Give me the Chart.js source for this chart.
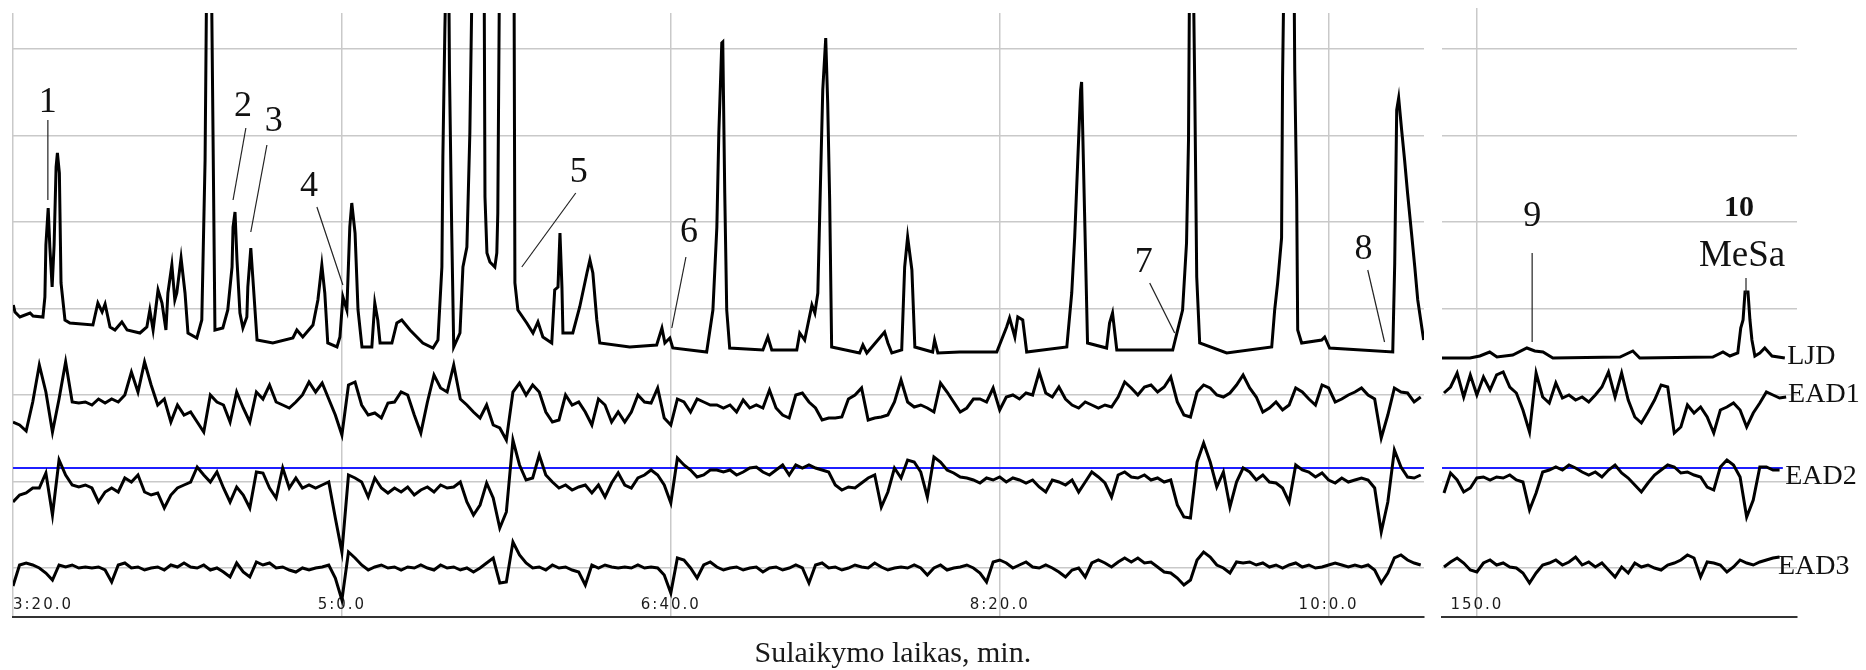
<!DOCTYPE html>
<html>
<head>
<meta charset="utf-8">
<title>GC-EAD</title>
<script src="https://cdn.jsdelivr.net/npm/chart.js"></script>
<style>
  html, body { margin:0; padding:0; background:#fff; }
  #wrap  { position:relative; width:1866px; height:670px; overflow:hidden; background:#fff; }
  #left  { position:absolute; left:0; top:0; }
  #right { position:absolute; left:1430px; top:0; }
</style>
</head>
<body>
<div id="wrap">
  <canvas id="left" width="1440" height="670"></canvas>
  <canvas id="right" width="436" height="670"></canvas>
</div>
<script>
// ============================================================
//  GC-EAD run: FID trace (LJD) + three antenna traces (EAD1-3)
//  x = retention time in seconds, y = signal in arbitrary units
// ============================================================

// ---- axis ticks --------------------------------------------
const LEFT_TICKS        = [200, 300, 400, 500, 600];
const LEFT_TICK_LABELS  = ['3:20.0', '5:0.0', '6:40.0', '8:20.0', '10:0.0'];
const RIGHT_TICKS       = [150];
const RIGHT_TICK_LABELS = ['150.0'];

// ---- LJD (FID) trace, [time, signal] vertices ----------------
const LJD_LEFT = [
  [200.1,45],[200.6,38],[202.1,33],[205.2,37],[206.1,34],[209.1,33],[209.7,53],[210.0,105],[210.7,142],[211.2,103],
  [211.9,63],[212.5,105],[213.1,183],[213.5,197],[214.1,177],[214.6,67],[215.8,30],[217.3,27],[224.3,25],[225.8,47],
  [227.1,38],[228.0,46],[229.5,23],[231.0,20],[233.1,28],[234.7,20],[238.6,17],[240.7,23],[241.6,40],[242.6,20],
  [244.1,60],[245.3,47],[246.5,20],[247.1,57],[248.3,85],[249.2,50],[249.8,57],[251.1,92],[252.3,57],[253.2,17],
  [255.9,12],[257.4,30],[258.4,190],[259.0,420],[260.2,420],[260.8,220],[261.4,20],[263.8,22],[265.3,40],[266.6,83],
  [266.9,123],[267.5,138],[268.1,90],[269.0,37],[269.9,22],[271.1,33],[271.4,63],[272.3,102],[272.9,73],[274.2,10],
  [279.0,7],[285.1,12],[286.3,20],[288.1,13],[291.2,25],[292.7,50],[293.9,85],[294.8,57],[295.7,7],[298.5,3],
  [299.4,13],[300.3,53],[301.5,40],[302.4,123],[303.0,147],[304.0,117],[304.9,40],[306.1,3],[309.1,3],[310.0,47],
  [310.9,30],[311.6,7],[315.2,7],[316.7,27],[318.2,30],[320.7,20],[324.6,7],[327.7,2],[329.2,10],[330.4,83],
  [330.7,193],[331.3,320],[331.9,420],[332.4,420],[332.7,280],[333.4,117],[334.0,3],[335.9,17],[336.8,83],[338.0,103],
  [338.9,217],[339.8,420],[343.2,420],[343.5,153],[344.1,97],[345.0,88],[346.5,83],[347.1,97],[347.4,137],[348.0,420],
  [352.3,420],[352.6,67],[353.5,40],[356.2,27],[358.1,17],[359.6,28],[361.1,13],[363.8,7],[364.7,60],[365.7,63],
  [366.3,117],[366.9,63],[367.2,17],[370.2,17],[372.3,43],[374.5,77],[375.4,90],[376.3,77],[377.5,30],[378.4,7],
  [387.5,3],[395.7,5],[397.3,22],[398.2,7],[399.7,12],[400.6,2],[410.9,-2],[412.8,40],[414.0,123],[414.6,217],
  [415.5,307],[415.8,308],[416.4,157],[417.0,40],[417.9,2],[428.0,0],[429.5,13],[430.7,0],[438.3,0],[439.2,17],
  [440.7,10],[442.9,45],[443.8,37],[444.7,57],[445.6,180],[446.2,260],[447.1,312],[447.7,247],[448.3,150],[448.9,3],
  [457.4,-3],[458.4,5],[459.6,-3],[465.0,18],[466.0,7],[467.2,-3],[470.2,0],[471.1,83],[472.0,113],[473.3,80],
  [474.2,3],[479.6,-2],[480.2,10],[481.2,-3],[487.8,-2],[499.1,-2],[502.1,23],[503.0,32],[504.6,13],[505.5,33],
  [507.0,30],[508.2,-2],[520.4,3],[521.9,57],[522.8,113],[523.7,187],[524.6,260],[524.9,268],[525.8,137],[526.7,7],
  [532.5,2],[533.4,27],[534.3,37],[535.6,0],[552.6,0],[554.1,20],[555.6,40],[556.8,107],[557.4,210],[557.8,420],
  [558.7,420],[559.3,263],[559.9,73],[560.8,7],[569.0,-3],[582.7,3],[583.6,40],[584.5,67],[585.7,112],[586.0,273],
  [586.6,420],[589.4,420],[589.7,280],[590.3,150],[590.6,20],[591.8,7],[597.9,10],[598.8,13],[600.3,2],[619.5,-2],
  [620.1,87],[620.7,240],[621.3,252],[622.2,220],[623.1,190],[624.0,157],[625.2,117],[626.2,83],[627.1,50],[628.9,10]
];
const LJD_RIGHT = [
  [139.4,-8],[147.9,-8],[150.9,-6],[153.9,-2],[156.1,-7],[160.9,-5],[165.2,2],[167.6,-1],[170.1,-2],[173.1,-8],
  [193.5,-7],[197.4,-1],[199.5,-8],[221.7,-7],[224.8,-2],[226.9,-6],[229.3,-3],[230.2,22],[230.9,30],[231.5,58],
  [232.4,58],[233.0,30],[233.6,10],[234.5,-6],[236.0,-3],[237.5,2],[239.7,-6],[243.6,-8]
];

// ---- EAD traces, one sample every 2 s -------------------------
const EAD1_LEFT = [
  -24,-27,-33,-4,33,6,-34,-1,36,-4,  -5,-4,-7,-1,-5,-1,-4,3,26,6,  36,13,-7,-1,-24,-7,-17,-14,-24,-34,
  3,-4,-7,-24,6,-10,-24,6,-1,13,  -4,-7,-10,-4,3,16,6,15,-1,-17,  -37,13,16,-7,-17,-15,-20,-5,-4,6,
  3,-17,-35,-4,23,10,6,33,-1,-7,  -14,-20,-7,-27,-30,-42,6,15,3,13,  6,-14,-24,-22,3,-7,-4,-14,-27,-1,
  -7,-24,-14,-24,-14,3,-4,-5,10,-20,  -27,-1,-4,-14,-1,-4,-7,-7,-10,-7,  -14,-2,-10,-7,-10,8,-10,-17,-20,3,
  5,-4,-10,-22,-20,-20,-19,-1,3,10,  -22,-20,-19,-17,-4,18,-4,-9,-7,-10,  -14,15,6,-4,-14,-10,-1,-1,-4,10,
  -12,1,3,-1,5,3,26,5,1,11,  -1,-7,-10,-4,-7,-10,-7,-9,1,16,  10,3,11,13,6,11,21,-4,-17,-19,
  6,13,10,3,1,5,13,23,10,1,  -14,-10,-4,-12,-7,10,6,-1,-7,13,  10,-4,-1,3,6,10,3,-1,-40,-17,
  10,6,5,-4,1
];
const EAD2_LEFT = [
  -22,-15,-13,-8,-8,7,-35,20,5,-5,  -7,-5,-8,-22,-12,-8,-12,2,-2,5,  -12,-15,-13,-28,-15,-8,-5,-2,13,5,
  -2,8,-8,-22,-7,-15,-28,8,7,-8,  -18,12,-8,2,-8,-5,-8,-5,-2,-38,  -72,5,2,-2,-17,2,-8,-13,-8,-12,
  -7,-15,-10,-7,-12,-5,-8,-7,-2,-22,  -35,-25,-3,-18,-48,-32,40,15,0,2,  25,5,-2,-8,-5,-10,-7,-5,-13,-5,
  -17,-3,7,-5,-8,2,5,10,5,-5,  -23,22,15,10,3,5,10,10,8,10,  5,8,12,13,8,5,10,15,5,15,
  12,15,12,10,8,-5,-10,-7,-8,-3,  2,5,-27,-12,12,2,20,18,8,-17,  23,18,10,7,3,2,0,-3,2,0,
  3,-2,2,0,-3,0,-7,-12,0,-2,  -5,0,-12,-2,8,3,-3,-17,5,8,  3,2,5,0,2,-2,0,-25,-37,-38,
  18,37,18,-7,8,-27,-2,12,8,0,  5,-2,-3,-8,-22,15,10,8,3,7,  0,-3,2,-2,0,2,0,-8,-52,-22,
  30,13,3,2,5
];
const EAD3_LEFT = [
  -18,3,5,3,0,-5,-12,3,1,3,  0,1,0,1,-2,-14,3,5,0,1,  -2,0,1,-2,3,1,5,1,0,3,
  -2,0,-4,-9,5,-4,-9,6,3,5,  0,1,-2,-4,0,-2,0,1,3,-10,  -32,16,10,3,-2,1,3,0,1,-2,
  1,0,3,0,-2,3,0,1,-2,0,  -4,0,5,10,-15,-14,26,13,5,0,  1,-2,3,0,1,-2,-4,-17,3,0,
  3,1,0,1,0,3,0,1,0,-7,  -25,10,8,0,-10,3,6,1,-2,0,  1,-2,0,1,-4,0,1,-2,0,3,
  0,-15,3,5,0,1,-2,0,3,1,  0,5,1,-2,0,1,0,3,0,-7,  0,3,-2,0,1,3,0,-5,-14,6,
  8,5,0,3,6,1,0,3,0,-4,  -9,-2,0,-9,5,8,5,1,6,10,  6,10,5,6,1,-4,-5,-10,-17,-12,
  8,16,11,3,0,-5,6,5,6,3,  5,1,3,0,3,5,1,3,0,1,  3,5,3,1,3,1,3,-2,-15,-5,
  10,13,8,5,3
];
const EAD1_RIGHT = [
  5,11,25,1,23,3,21,8,23,26,  11,5,-12,-34,25,1,-5,15,0,3,  -2,1,-4,3,11,26,1,25,-2,-19,
  -25,-14,-2,13,11,-35,-29,-7,-15,-9,  -19,-35,-12,-9,-5,-12,-29,-15,-5,6,  3,0,1
];
const EAD2_RIGHT = [
  -13,7,0,-12,-8,2,3,0,3,2,  5,0,-2,-30,-13,8,10,13,10,15,  12,8,5,8,3,10,15,7,2,-5,
  -12,-3,5,10,15,13,7,8,5,3,  -7,-10,13,20,15,3,-37,-20,13,13,  10,10
];
const EAD3_RIGHT = [
  1,6,10,5,-2,-4,5,8,3,5,  1,0,-5,-15,-5,3,5,8,3,6,  11,3,6,1,5,-2,-9,1,-5,5,
  1,3,0,-2,3,5,8,13,10,-9,  6,5,3,-4,1,8,5,3,6,8,  10,11
];

// baseline of each trace on the shared y axis
const BASE   = { LJD: 267, EAD1: 219, EAD2: 137, EAD3: 49, REF: 149 };
const Y_GRID = [49, 135.5, 222, 308.5, 395, 481.5, 568];

const GRID  = '#c9c9c9';
const SERIF = '"Liberation Serif", "Times New Roman", serif';

// ---- peak labels -------------------------------------------
const NUM_FONT = '36px ' + SERIF;
const TAG_FONT = '28px ' + SERIF;
const LEFT_NOTES = [
  { text:'1', x:210.6, y:514, line:[210.6,497,210.6,417] },
  { text:'2', x:269.9, y:510, line:[270.8,489,266.9,417] },
  { text:'3', x:279.3, y:495, line:[277.2,472,272.3,385] },
  { text:'4', x:290.0, y:430, line:[292.4,410,300.3,332] },
  { text:'5', x:372.0, y:444, line:[371.1,424,354.7,350] },
  { text:'6', x:405.5, y:384, line:[404.6,360,400.3,289] },
  { text:'7', x:543.8, y:354, line:[545.6,334,553.2,284] },
  { text:'8', x:610.6, y:367, line:[611.9,347,617.0,275] }
];
const RIGHT_NOTES = [
  { text:'9',    x:166.8, y:400, line:[166.8,364,166.8,275] },
  { text:'10',   x:229.7, y:409, font:'bold 30px ' + SERIF },
  { text:'MeSa', x:230.6, y:361, font:'37px ' + SERIF, line:[231.8,339,231.8,324] },
  { text:'LJD',  x:244.3, y:260, font:TAG_FONT, align:'left' },
  { text:'EAD1', x:244.6, y:222, font:TAG_FONT, align:'left' },
  { text:'EAD2', x:243.7, y:140, font:TAG_FONT, align:'left' },
  { text:'EAD3', x:241.5, y:50,  font:TAG_FONT, align:'left' }
];

// ============================================================
const pairs   = (list, base) => list.map(([t, v]) => ({ x: t, y: v + base }));
const sampled = (list, t0, base) => list.map((v, i) => ({ x: t0 + i * 2, y: v + base }));
const trace   = (data, w) => ({ data, borderColor:'#000', borderWidth:w, pointRadius:0, tension:0, fill:false,
                                borderJoinStyle:'miter' });

function notesPlugin(id, notes, title) {
  return {
    id,
    beforeDraw(chart)         { chart.ctx.letterSpacing = '2px'; },   // wide tick lettering
    beforeDatasetsDraw(chart) { chart.ctx.letterSpacing = '0px'; },
    afterDraw(chart) {
      const { ctx, scales: { x, y } } = chart;
      ctx.save();
      ctx.letterSpacing = '0px';
      ctx.fillStyle = '#111';
      ctx.strokeStyle = '#222';
      ctx.lineWidth = 1.2;
      notes.forEach(n => {
        if (n.line) {
          const [x1, y1, x2, y2] = n.line;
          ctx.beginPath();
          ctx.moveTo(x.getPixelForValue(x1), y.getPixelForValue(y1));
          ctx.lineTo(x.getPixelForValue(x2), y.getPixelForValue(y2));
          ctx.stroke();
        }
        ctx.font = n.font || NUM_FONT;
        ctx.textAlign = n.align || 'center';
        ctx.textBaseline = 'middle';
        ctx.fillText(n.text, x.getPixelForValue(n.x), y.getPixelForValue(n.y));
      });
      if (title) {
        ctx.font = '30px ' + SERIF;
        ctx.fillStyle = '#1a1a1a';
        ctx.textAlign = 'center';
        ctx.textBaseline = 'alphabetic';
        ctx.fillText(title.text, x.getPixelForValue(title.x), chart.chartArea.bottom + 45);
      }
      ctx.restore();
    }
  };
}

function panel(canvas, cfg) {
  const tickValues = cfg.endTick ? [...cfg.ticks, cfg.xMax] : cfg.ticks;
  return new Chart(canvas, {
    type: 'line',
    data: {
      datasets: [
        trace(pairs(cfg.ljd, BASE.LJD), 3),
        trace(sampled(cfg.ead1, cfg.t0, BASE.EAD1), 3),
        trace(sampled(cfg.ead2, cfg.t0, BASE.EAD2), 3),
        trace(sampled(cfg.ead3, cfg.t0, BASE.EAD3), 3),
        { data: [{ x: cfg.refFrom, y: BASE.REF }, { x: cfg.refTo, y: BASE.REF }],
          borderColor:'#1f1fff', borderWidth:2, pointRadius:0 }
      ]
    },
    options: {
      responsive: false, animation: false, events: [],
      layout: { padding: cfg.padding },
      plugins: { legend: { display:false }, tooltip: { enabled:false } },
      scales: {
        x: {
          type: 'linear', min: cfg.xMin, max: cfg.xMax,
          afterBuildTicks: s => { s.ticks = tickValues.map(v => ({ value: v })); },
          afterFit: s => { s.height = 53; },
          grid: { drawTicks:false, lineWidth:1.5,
                  color: c => (cfg.endTick && c.tick && c.tick.value === cfg.xMax) ? 'rgba(0,0,0,0)' : GRID },
          border: { display:true, color:'#333', width:2 },
          // labels sit just above the axis line, inside the plot
          ticks: { mirror:true, align: cfg.align, padding: 3, color:'#1c1c1c', autoSkip:false, maxRotation:0,
                   font: { family:'"DejaVu Sans", sans-serif', size:15 },
                   callback: (v, i) => cfg.labels[i] ?? '' }
        },
        y: {
          min: 0, max: cfg.yMax,
          afterBuildTicks: s => { s.ticks = Y_GRID.map(v => ({ value: v })); },
          afterFit: s => { s.width = 0; },
          grid: { color: GRID, lineWidth:1.5, drawTicks:false },
          border: { display:false },
          ticks: { display:false }
        }
      }
    },
    plugins: [notesPlugin(cfg.id, cfg.notes, cfg.title)]
  });
}

// left: 3:20 - 10:29, right: late part of the run
panel(document.getElementById('left'), {
  id:'notesLeft', ljd:LJD_LEFT, ead1:EAD1_LEFT, ead2:EAD2_LEFT, ead3:EAD3_LEFT, t0:200,
  xMin:200, xMax:629, yMax:604, ticks:LEFT_TICKS, labels:LEFT_TICK_LABELS, endTick:true, align:'inner',
  refFrom:200, refTo:629, padding:{ left:13, top:13, right:16, bottom:0 },
  notes:LEFT_NOTES, title:{ text:'Sulaikymo laikas, min.', x:467.5 }
});
panel(document.getElementById('right'), {
  id:'notesRight', ljd:LJD_RIGHT, ead1:EAD1_RIGHT, ead2:EAD2_RIGHT, ead3:EAD3_RIGHT, t0:140,
  xMin:139.4, xMax:247.3, yMax:609, ticks:RIGHT_TICKS, labels:RIGHT_TICK_LABELS, endTick:false, align:'center',
  refFrom:139.4, refTo:243, padding:{ left:12, top:8, right:69, bottom:0 },
  notes:RIGHT_NOTES
});
</script>
</body>
</html>
